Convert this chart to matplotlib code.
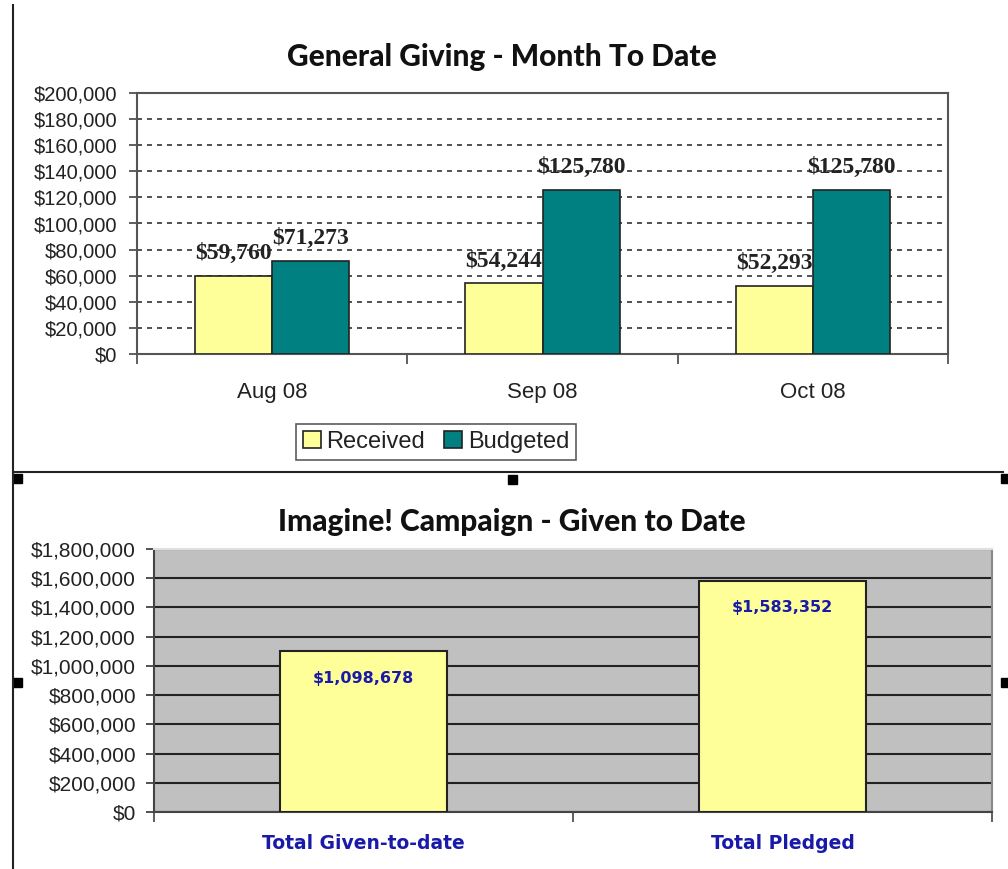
import numpy as np
import matplotlib.pyplot as plt
from matplotlib.lines import Line2D
from matplotlib.patches import Rectangle, Patch
from matplotlib.ticker import FuncFormatter, FixedLocator, NullFormatter

# data
months = ['Aug 08', 'Sep 08', 'Oct 08']
received = [59760, 54244, 52293]
budgeted = [71273, 125780, 125780]

campaign_cats = ['Total Given-to-date', 'Total Pledged']
campaign_vals = [1098678, 1583352]

yellow = '#FFFF99'
teal = '#008080'
blue = '#1a1aa8'

def money(v, pos=None):
    return '${:,.0f}'.format(v)

W, H = 1008, 869
fig = plt.figure(figsize=(W / 100, H / 100), dpi=100)
fig.patch.set_facecolor('white')

def px_axes(l, t, r, b):
    return fig.add_axes([l / W, 1 - b / H, (r - l) / W, (b - t) / H])

# ---------- top chart ----------
ax1 = px_axes(137, 93, 948, 354)
x = np.arange(len(months))
bw = 0.285
b1 = ax1.bar(x - bw / 2, received, bw, color=yellow, edgecolor='#222222', lw=1.2, zorder=3, label='Received')
b2 = ax1.bar(x + bw / 2, budgeted, bw, color=teal, edgecolor='#222222', lw=1.2, zorder=3, label='Budgeted')
ax1.set_xlim(-0.5, 2.5)
ax1.set_ylim(0, 200000)
ax1.set_yticks(np.arange(0, 200001, 20000))
ax1.yaxis.set_major_formatter(FuncFormatter(money))
ax1.yaxis.grid(True, ls=(0, (3, 3)), color='#333333', lw=1.2, zorder=1)
ax1.set_xticks(x)
ax1.set_xticklabels(months, fontsize=16, family='Liberation Sans', color='#222222')
ax1.tick_params(axis='x', which='major', length=0, pad=20)
ax1.xaxis.set_minor_locator(FixedLocator([-0.5, 0.5, 1.5, 2.5]))
ax1.xaxis.set_minor_formatter(NullFormatter())
ax1.tick_params(axis='x', which='minor', length=7, width=1.2, color='#444444', direction='out')
ax1.tick_params(axis='y', length=6, width=1.2, color='#444444', direction='out', pad=8)
for lab in ax1.get_yticklabels():
    lab.set_fontsize(14.5)
    lab.set_family('Liberation Sans')
    lab.set_color('#222222')
for s in ax1.spines.values():
    s.set_color('#555555')
    s.set_linewidth(1.5)
for bars in (b1, b2):
    for r in bars:
        ax1.annotate(money(r.get_height()), (r.get_x() + r.get_width() / 2, r.get_height()),
                     xytext=(0, 16), textcoords='offset points', ha='center', va='center',
                     fontsize=17, fontweight='bold', family='Liberation Serif', color='#222222')
fig.text(502 / W, 1 - 57 / H, 'General Giving - Month To Date', ha='center', va='center',
         fontsize=21.5, fontweight='black', family='Lato', color='#111111')

handles = [Patch(facecolor=yellow, edgecolor='#222222', lw=1.2), Patch(facecolor=teal, edgecolor='#222222', lw=1.2)]
leg = fig.legend(handles, ['Received', 'Budgeted'], loc='center', bbox_to_anchor=(436 / W, 1 - 442 / H),
                 ncol=2, frameon=True, fancybox=False, edgecolor='#333333', handlelength=0.75, handleheight=0.75,
                 handletextpad=0.25, columnspacing=0.8, borderpad=0.3,
                 prop={'family': 'Liberation Sans', 'size': 17})
leg.get_frame().set_linewidth(1.2)
for t in leg.get_texts():
    t.set_color('#222222')

# ---------- bottom chart ----------
ax2 = px_axes(154, 549, 992, 812)
x2 = np.arange(len(campaign_cats))
b3 = ax2.bar(x2, campaign_vals, 0.4, color=yellow, edgecolor='#222222', lw=1.5, zorder=3)
ax2.set_facecolor('#C0C0C0')
ax2.set_xlim(-0.5, 1.5)
ax2.set_ylim(0, 1800000)
ax2.set_yticks(np.arange(0, 1800001, 200000))
ax2.yaxis.set_major_formatter(FuncFormatter(money))
ax2.yaxis.grid(True, ls='-', color='#222222', lw=1.5, zorder=1)
ax2.set_xticks(x2)
ax2.set_xticklabels(campaign_cats, fontsize=13.5, fontweight='bold', family='DejaVu Sans', color=blue)
ax2.tick_params(axis='x', which='major', length=0, pad=16)
ax2.xaxis.set_minor_locator(FixedLocator([-0.5, 0.5, 1.5]))
ax2.xaxis.set_minor_formatter(NullFormatter())
ax2.tick_params(axis='x', which='minor', length=7, width=1.2, color='#444444', direction='out')
ax2.tick_params(axis='y', length=6, width=1.2, color='#333333', direction='out', pad=7)
for lab in ax2.get_yticklabels():
    lab.set_fontsize(15)
    lab.set_family('Liberation Sans')
    lab.set_color('#222222')
ax2.spines['left'].set_color('#444444')
ax2.spines['bottom'].set_color('#444444')
ax2.spines['right'].set_color('#888888')
ax2.spines['top'].set_color('#e0e0e0')
for s in ax2.spines.values():
    s.set_linewidth(1.5)
for r in b3:
    ax2.annotate(money(r.get_height()), (r.get_x() + r.get_width() / 2, r.get_height()),
                 xytext=(0, -14), textcoords='offset points', ha='center', va='top',
                 fontsize=11.5, fontweight='bold', family='DejaVu Sans', color=blue)
fig.text(512 / W, 1 - 522 / H, 'Imagine! Campaign - Given to Date', ha='center', va='center',
         fontsize=21.5, fontweight='black', family='Lato', color='#111111')

# ---------- frame and selection handles ----------
fig.add_artist(Line2D([13 / W, 13 / W], [0, 1 - 5 / H], color='#222222', lw=1.5))
fig.add_artist(Line2D([13 / W, 1003 / W], [1 - 472 / H, 1 - 472 / H], color='#222222', lw=1.5))
for hx, hy in [(13, 474), (508, 475), (1001, 474), (13, 678), (1001, 678)]:
    fig.add_artist(Rectangle((hx / W, 1 - (hy + 9) / H), 9 / W, 9 / H, color='black'))

fig.savefig('out.png', dpi=100)
